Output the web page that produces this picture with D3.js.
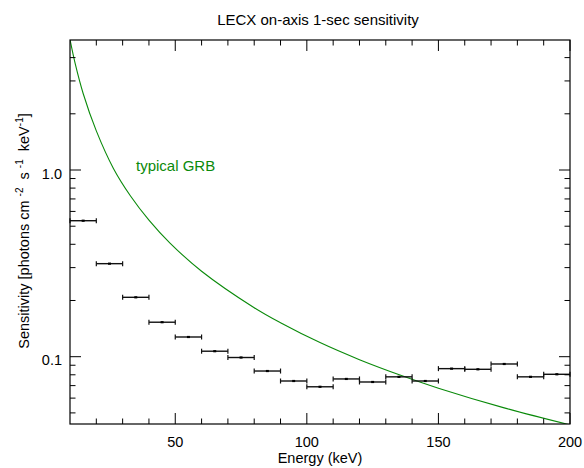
<!DOCTYPE html>
<html>
<head>
<meta charset="utf-8">
<script src="https://cdn.jsdelivr.net/npm/d3@7"></script>
<style>
  html, body { margin: 0; padding: 0; background: #fff; }
  svg { display: block; font-family: "Liberation Sans", Arial, sans-serif; }
</style>
</head>
<body>
<svg id="chart" width="584" height="468"></svg>
<script>
// ---- data ----
const binStart = [10, 20, 30, 40, 50, 60, 70, 80, 90, 100, 110, 120, 130, 140, 150, 160, 170, 180, 190];
const binEnd   = [20, 30, 40, 50, 60, 70, 80, 90, 100, 110, 120, 130, 140, 150, 160, 170, 180, 190, 200];
const sensitivity = [0.535, 0.315, 0.208, 0.153, 0.1275, 0.107, 0.099, 0.0838, 0.0741, 0.069,
                     0.076, 0.0732, 0.078, 0.0741, 0.0863, 0.0856, 0.0914, 0.078, 0.0805];
const grbEnergy = [10, 12, 15, 20, 26.5, 33, 40, 48, 60, 80, 90, 105, 120, 137, 150, 175, 200];
const grbFlux   = [5.0, 3.70, 2.57, 1.62, 1.02, 0.726, 0.539, 0.406, 0.287, 0.183, 0.152, 0.119, 0.0964, 0.0783, 0.0678, 0.0532, 0.0431];
const xMajorTicks = [50, 100, 150, 200];
const xMinorTicks = [20, 30, 40, 60, 70, 80, 90, 110, 120, 130, 140, 160, 170, 180, 190];
const yMajorTicks = [0.1, 1.0];
const yTickLabels = ["0.1", "1.0"];
const yMinorTicks = [0.05, 0.06, 0.07, 0.08, 0.09, 0.2, 0.3, 0.4, 0.5, 0.6, 0.7, 0.8, 0.9, 2, 3, 4];

// ---- layout ----
const L = 70, R = 570, T = 40, B = 424;
const svg = d3.select("#chart");
const x = d3.scaleLinear().domain([10, 200]).range([L, R]);
const y = d3.scaleLog().domain([0.0436, 4.97]).range([B, T]);
const green = "#0a8a0a";

svg.append("defs").append("clipPath").attr("id", "clip")
  .append("rect").attr("x", L).attr("y", T).attr("width", R - L).attr("height", B - T);

// GRB curve
svg.append("path")
  .datum(grbEnergy.map((e, i) => [e, grbFlux[i]]))
  .attr("clip-path", "url(#clip)")
  .attr("fill", "none").attr("stroke", green).attr("stroke-width", 1.1)
  .attr("d", d3.line().x(d => x(d[0])).y(d => y(d[1])).curve(d3.curveCatmullRom.alpha(0.5)));

svg.append("text").attr("x", 136).attr("y", 170.5)
  .attr("fill", green).attr("font-size", 15).text("typical GRB");

// data bars
const g = svg.append("g").attr("stroke", "#111").attr("stroke-width", 1.4);
sensitivity.forEach((v, i) => {
  const x0 = x(binStart[i]), x1 = x(binEnd[i]), yy = y(v);
  g.append("line").attr("x1", x0).attr("x2", x1).attr("y1", yy).attr("y2", yy);
  g.append("line").attr("x1", x0).attr("x2", x0).attr("y1", yy - 2.5).attr("y2", yy + 2.5).attr("stroke-width", 1.2);
  g.append("line").attr("x1", x1).attr("x2", x1).attr("y1", yy - 2.5).attr("y2", yy + 2.5).attr("stroke-width", 1.2);
  const xc = x((binStart[i] + binEnd[i]) / 2);
  g.append("line").attr("x1", xc - 1.5).attr("x2", xc + 1.5).attr("y1", yy).attr("y2", yy).attr("stroke-width", 2.2).attr("stroke", "#000");
});

// frame
svg.append("rect").attr("x", L).attr("y", T).attr("width", R - L).attr("height", B - T)
  .attr("fill", "none").attr("stroke", "#000").attr("stroke-width", 1.2);

// axes ticks
const ax = svg.append("g").attr("stroke", "#000").attr("stroke-width", 1);
xMajorTicks.forEach(t => {
  ax.append("line").attr("x1", x(t)).attr("x2", x(t)).attr("y1", B).attr("y2", B - 11);
  ax.append("line").attr("x1", x(t)).attr("x2", x(t)).attr("y1", T).attr("y2", T + 11);
});
xMinorTicks.forEach(t => {
  ax.append("line").attr("x1", x(t)).attr("x2", x(t)).attr("y1", B).attr("y2", B - 5.5);
  ax.append("line").attr("x1", x(t)).attr("x2", x(t)).attr("y1", T).attr("y2", T + 5.5);
});
yMajorTicks.forEach(t => {
  ax.append("line").attr("x1", L).attr("x2", L + 11).attr("y1", y(t)).attr("y2", y(t));
  ax.append("line").attr("x1", R).attr("x2", R - 11).attr("y1", y(t)).attr("y2", y(t));
});
yMinorTicks.forEach(t => {
  ax.append("line").attr("x1", L).attr("x2", L + 5.5).attr("y1", y(t)).attr("y2", y(t));
  ax.append("line").attr("x1", R).attr("x2", R - 5.5).attr("y1", y(t)).attr("y2", y(t));
});

// tick labels
svg.append("g").selectAll("text").data(xMajorTicks).join("text")
  .attr("x", d => x(d)).attr("y", 447).attr("text-anchor", "middle")
  .attr("font-size", 14.5).attr("fill", "#000").text(d => d);
svg.append("g").selectAll("text").data(yMajorTicks).join("text")
  .attr("x", 62).attr("y", d => y(d) + 8.5).attr("text-anchor", "end")
  .attr("font-size", 14.5).attr("fill", "#000").text((d, i) => yTickLabels[i]);

// titles
svg.append("text").attr("x", 318).attr("y", 25).attr("text-anchor", "middle")
  .attr("font-size", 15).attr("fill", "#000").text("LECX on-axis 1-sec sensitivity");
svg.append("text").attr("x", 320).attr("y", 463).attr("text-anchor", "middle")
  .attr("font-size", 14.5).attr("fill", "#000").text("Energy (keV)");

const yl = svg.append("text").attr("transform", "translate(29,231) rotate(-90)")
  .attr("text-anchor", "middle").attr("font-size", 14.5).attr("fill", "#000")
  .attr("xml:space", "preserve").style("white-space", "pre");
yl.append("tspan").text("Sensitivity [photons cm ");
yl.append("tspan").attr("dy", -6).attr("font-size", 10).text("-2");
yl.append("tspan").attr("dy", 6).text("  s ");
yl.append("tspan").attr("dy", -6).attr("font-size", 10).text("-1");
yl.append("tspan").attr("dy", 6).text("  keV");
yl.append("tspan").attr("dy", -6).attr("font-size", 10).text("-1");
yl.append("tspan").attr("dy", 6).text("]");
</script>
</body>
</html>
